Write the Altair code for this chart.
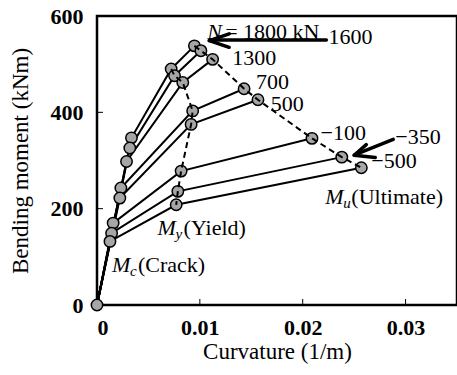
import altair as alt
import pandas as pd

# ---- data ----
N_values = [1800, 1600, 1300, 700, 500, -100, -350, -500]
crack_k = [0.00335, 0.00319, 0.00287, 0.00232, 0.00222, 0.00157, 0.00142, 0.00126]
crack_m = [347, 326, 298, 243, 222, 170, 149, 132]
yield_k = [0.00721, 0.00754, 0.00834, 0.00930, 0.00915, 0.00818, 0.00786, 0.00770]
yield_m = [490, 476, 462, 403, 375, 278, 236, 208]
ult_k = [0.00947, 0.01010, 0.01124, 0.01430, 0.01565, 0.02090, 0.02380, 0.02570]
ult_m = [538, 528, 510, 449, 426, 346, 307, 285]

x_ticks = [0.01, 0.02, 0.03]
y_ticks = [200, 400]

FONT = "Liberation Serif"
FS = 22

rows = []
for i, n in enumerate(N_values):
    rows.append({"N": n, "step": 0, "k": 0.0, "m": 0.0})
    rows.append({"N": n, "step": 1, "k": crack_k[i], "m": crack_m[i]})
    rows.append({"N": n, "step": 2, "k": yield_k[i], "m": yield_m[i]})
    rows.append({"N": n, "step": 3, "k": ult_k[i], "m": ult_m[i]})
curves = pd.DataFrame(rows)

dashed = pd.DataFrame(
    [{"stage": "yield", "rank": i, "k": yield_k[i], "m": yield_m[i]} for i in range(len(N_values))]
    + [{"stage": "ult", "rank": i, "k": ult_k[i], "m": ult_m[i]} for i in range(len(N_values))]
)

points = curves.drop_duplicates(subset=["k", "m"])

xs = alt.Scale(domain=[0, 0.035], nice=False)
ys = alt.Scale(domain=[0, 600], nice=False)

X = alt.X("k:Q", scale=xs, axis=alt.Axis(
    title="Curvature (1/m)", values=[0, 0.01, 0.02, 0.03], format="~g",
    titleY=46, titleBaseline="middle"))
Y = alt.Y("m:Q", scale=ys, axis=alt.Axis(
    title="Bending moment (kNm)", values=[0, 200, 400, 600],
    titleX=-77, titleBaseline="middle"))

base = alt.Chart(curves)

lines = base.mark_line(color="black", strokeWidth=2).encode(
    x=X, y=Y, detail="N:N", order="step:Q")

marks = alt.Chart(points).mark_point(
    shape="circle", filled=True, fill="#a6a6a6", stroke="black",
    strokeWidth=1.5, size=130, opacity=1).encode(
    x=alt.X("k:Q", scale=xs), y=alt.Y("m:Q", scale=ys))

dash = alt.Chart(dashed).mark_line(
    color="black", strokeWidth=2, strokeDash=[6, 4]).encode(
    x=alt.X("k:Q", scale=xs), y=alt.Y("m:Q", scale=ys),
    detail="stage:N", order="rank:Q")

# inward tick marks
xt = alt.Chart(pd.DataFrame({"k": x_ticks})).mark_rule(color="black", strokeWidth=1).encode(
    x=alt.X("k:Q", scale=xs), y=alt.value(289), y2=alt.value(283))
yt = alt.Chart(pd.DataFrame({"m": y_ticks})).mark_rule(color="black", strokeWidth=1).encode(
    y=alt.Y("m:Q", scale=ys), x=alt.value(0), x2=alt.value(6))

# annotations
lab_text = ["= 1800 kN", "1600", "1300", "700", "500", "\u2212100", "\u2212350", "\u2212500"]
lab_k = [0.01246, 0.02251, 0.01314, 0.01546, 0.01690, 0.02174, 0.02900, 0.02667]
lab_m = [567, 556, 512, 462, 417, 358, 348, 298]
labels = alt.Chart(pd.DataFrame({"t": lab_text, "k": lab_k, "m": lab_m})).mark_text(
    font=FONT, fontSize=FS, align="left", baseline="middle", color="black").encode(
    x=alt.X("k:Q", scale=xs), y=alt.Y("m:Q", scale=ys), text="t:N")

ital_text = ["N", "M", "M", "M"]
ital_k = [0.01072, 0.02220, 0.00589, 0.00145]
ital_m = [567, 225, 160, 83]
ital = alt.Chart(pd.DataFrame({"t": ital_text, "k": ital_k, "m": ital_m})).mark_text(
    font=FONT, fontSize=FS, fontStyle="italic", align="left", baseline="middle", color="black").encode(
    x=alt.X("k:Q", scale=xs), y=alt.Y("m:Q", scale=ys), text="t:N")

sub_df = pd.DataFrame({"t": ["u", "y", "c"], "k": ital_k[1:], "m": ital_m[1:]})
subs = alt.Chart(sub_df).mark_text(
    font=FONT, fontSize=15, fontStyle="italic", align="left", baseline="middle",
    dx=18, dy=6, color="black").encode(
    x=alt.X("k:Q", scale=xs), y=alt.Y("m:Q", scale=ys), text="t:N")

par_df = pd.DataFrame({"t": ["(Ultimate)", "(Yield)", "(Crack)"], "k": ital_k[1:], "m": ital_m[1:]})
pars = alt.Chart(par_df).mark_text(
    font=FONT, fontSize=FS, align="left", baseline="middle", dx=26, color="black").encode(
    x=alt.X("k:Q", scale=xs), y=alt.Y("m:Q", scale=ys), text="t:N")

arrow_df = pd.DataFrame({
    "k": [0.02230, 0.01092, 0.01092, 0.02880, 0.02500, 0.02500],
    "m": [550, 549, 549, 344, 311, 311],
    "k2": [0.01110, 0.01285, 0.01285, 0.02510, 0.02618, 0.02705],
    "m2": [550, 563, 535, 312, 333, 306],
})
arrows = alt.Chart(arrow_df).mark_rule(color="black", strokeWidth=3.5, strokeCap="round").encode(
    x=alt.X("k:Q", scale=xs), y=alt.Y("m:Q", scale=ys), x2="k2:Q", y2="m2:Q")

chart = alt.layer(lines, xt, yt, marks, dash, arrows, labels, ital, subs, pars).properties(
    width=360, height=289,
    autosize=alt.AutoSizeParams(type="none"),
    padding={"left": 97, "top": 16, "right": 0, "bottom": 70},
).configure_view(
    stroke="black", strokeWidth=2.5
).configure_axis(
    domain=False, grid=False, ticks=False,
    labelFont=FONT, labelFontSize=FS, labelFontWeight="bold", labelColor="black",
    titleFont=FONT, titleFontSize=23, titleFontWeight="normal", titleColor="black",
    labelPadding=12,
).configure_axisY(labelPadding=14)

chart.save("out.html", embed_options={"renderer": "svg", "actions": False})
